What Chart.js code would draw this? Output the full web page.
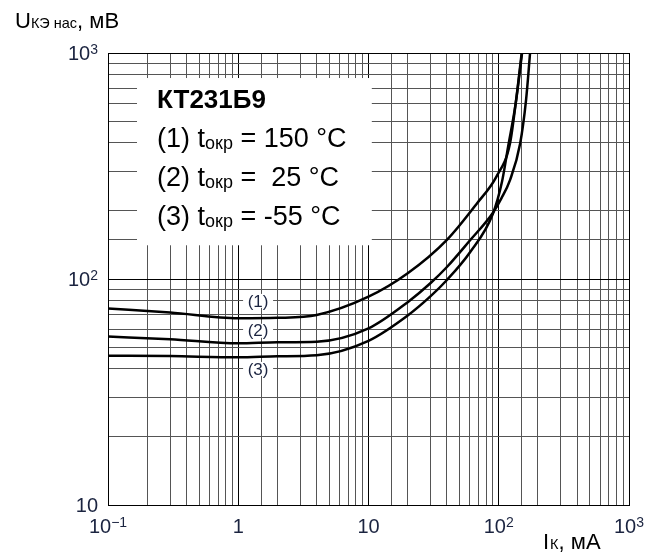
<!DOCTYPE html>
<html>
<head>
<meta charset="utf-8">
<script src="https://cdn.jsdelivr.net/npm/chart.js@4.4.1/dist/chart.umd.min.js"></script>
<style>
  html, body { margin: 0; padding: 0; background: #fff; }
</style>
</head>
<body>
<canvas id="chart" width="665" height="555"></canvas>
<script>
// Ik, mA / Uкэ нас, mV
const current1 = [0.1, 0.3, 1, 2, 4, 10, 20, 40, 68, 96, 122, 135, 150];
const voltage1 = [74, 71, 67, 67.3, 69.3, 83.5, 106, 149, 216, 284, 398, 600, 1000];

const current2 = [0.1, 0.3, 1, 2, 4, 10, 20, 30, 40, 60, 90, 105, 122, 146, 162, 174];
const voltage2 = [55.6, 54.1, 51.9, 52.5, 52.8, 60.5, 79, 96, 113, 148, 196, 228, 274, 398, 619, 1000];

const current3 = [0.1, 0.3, 1, 2, 4, 10, 20, 30, 40, 60, 90, 106, 118, 135, 151];
const voltage3 = [45.8, 45.6, 45, 45.5, 46, 53.3, 69, 84, 99, 131, 194, 270, 385, 600, 1000];

const curveNames = ['(1)', '(2)', '(3)'];
const curveLabelX = [1.42, 1.42, 1.42];
const curveLabelY = [80, 59, 40];

// decade tick labels: base + exponent
const xTickValues = [0.1, 1, 10, 100, 1000];
const xTickBase = ['10', '1', '10', '10', '10'];
const xTickSup = ['−1', '', '', '2', '3'];
const yTickValues = [10, 100, 1000];
const yTickBase = ['10', '10', '10'];
const yTickSup = ['', '2', '3'];

const FONT = "'Liberation Sans', Arial, sans-serif";
const TICK_COLOR = '#1b2440';

function pts(xs, ys) {
    return xs.map((x, i) => ({ x: x, y: ys[i] }));
}

function isDecade(value) {
    const e = Math.log10(value);
    return Math.abs(e - Math.round(e)) < 1e-6;
}

function drawPow(ctx, base, sup, ax, baseline, align) {
    ctx.font = '20px ' + FONT;
    const wB = ctx.measureText(base).width;
    ctx.font = '14px ' + FONT;
    const wS = sup ? ctx.measureText(sup).width : 0;
    const total = wB + wS;
    const x0 = align === 'center' ? ax - total / 2 : ax - total;
    ctx.font = '20px ' + FONT;
    ctx.fillText(base, x0, baseline);
    if (sup) {
        ctx.font = '14px ' + FONT;
        ctx.fillText(sup, x0 + wB, baseline - 6);
    }
}

const lineStyle = {
    borderColor: '#000',
    borderWidth: 2.5,
    pointRadius: 0,
    fill: false,
    cubicInterpolationMode: 'monotone',
};

// white legend panel, in data units
const panelX = [0.167, 10.6];
const panelY = [141, 775];

const overlay = {
    id: 'overlay',
    beforeDatasetsDraw(chart) {
        const { ctx, scales: { x, y } } = chart;
        ctx.save();
        ctx.fillStyle = '#fff';
        const l = x.getPixelForValue(panelX[0]), r = x.getPixelForValue(panelX[1]);
        const t = y.getPixelForValue(panelY[1]), b = y.getPixelForValue(panelY[0]);
        ctx.fillRect(l, t, r - l, b - t);
        curveNames.forEach((n, i) => {
            const cx = x.getPixelForValue(curveLabelX[i]);
            const cy = y.getPixelForValue(curveLabelY[i]);
            ctx.fillRect(cx - 15, cy - 7, 30, 14);
        });
        ctx.restore();
    },
    afterDraw(chart) {
        const { ctx, scales: { x, y } } = chart;
        ctx.save();
        ctx.fillStyle = TICK_COLOR;
        ctx.font = '17px ' + FONT;
        ctx.textAlign = 'center';
        ctx.textBaseline = 'middle';
        curveNames.forEach((n, i) => {
            ctx.fillText(n, x.getPixelForValue(curveLabelX[i]), y.getPixelForValue(curveLabelY[i]) + 1);
        });

        // tick labels
        ctx.textAlign = 'left';
        ctx.textBaseline = 'alphabetic';
        xTickValues.forEach((v, i) => {
            drawPow(ctx, xTickBase[i], xTickSup[i], x.getPixelForValue(v), 533, 'center');
        });
        yTickValues.forEach((v, i) => {
            drawPow(ctx, yTickBase[i], yTickSup[i], 98, y.getPixelForValue(v) + 7, 'right');
        });

        // panel text
        const l = x.getPixelForValue(panelX[0]);
        const t = y.getPixelForValue(panelY[1]);
        ctx.fillStyle = '#000';
        ctx.font = 'bold 26px ' + FONT;
        ctx.fillText('КТ231Б9', l + 20, t + 30);

        const rows = [['(1) t', ' = 150 °C'], ['(2) t', ' =  25 °C'], ['(3) t', ' = -55 °C']];
        rows.forEach((row, i) => {
            const base = t + 69 + i * 39;
            let px = l + 20;
            ctx.font = '27px ' + FONT;
            ctx.fillText(row[0], px, base);
            px += ctx.measureText(row[0]).width;
            ctx.font = '18px ' + FONT;
            ctx.fillText('окр', px, base + 2);
            px += ctx.measureText('окр').width;
            ctx.font = '27px ' + FONT;
            ctx.fillText(row[1], px, base);
        });

        // axis titles
        let px = 15;
        ctx.font = '22px ' + FONT;
        ctx.fillText('U', px, 28);
        px += ctx.measureText('U').width;
        ctx.font = '14.5px ' + FONT;
        ctx.fillText('КЭ нас', px, 28);
        px += ctx.measureText('КЭ нас').width;
        ctx.font = '22px ' + FONT;
        ctx.fillText(', мВ', px, 28);

        px = 543;
        ctx.fillText('I', px, 549);
        px += ctx.measureText('I').width + 1;
        ctx.font = '14.5px ' + FONT;
        ctx.fillText('К', px, 549);
        px += ctx.measureText('К').width;
        ctx.font = '22px ' + FONT;
        ctx.fillText(', мА', px, 549);
        ctx.restore();
    }
};

new Chart(document.getElementById('chart'), {
    type: 'line',
    data: {
        datasets: [
            { label: '(1) 150 °C', data: pts(current1, voltage1), ...lineStyle },
            { label: '(2) 25 °C', data: pts(current2, voltage2), ...lineStyle },
            { label: '(3) -55 °C', data: pts(current3, voltage3), ...lineStyle },
        ],
    },
    options: {
        responsive: false,
        animation: false,
        events: [],
        layout: { padding: { left: 0, top: 53, right: 36, bottom: 0 } },
        scales: {
            x: {
                type: 'logarithmic',
                min: 0.1,
                max: 1000,
                afterFit(s) { s.height = 50; },
                grid: {
                    drawTicks: false,
                    color: c => isDecade(c.tick.value) ? '#000' : '#555',
                    lineWidth: 1,
                },
                border: { display: true, color: '#000', width: 1 },
                ticks: { display: false, autoSkip: false, maxRotation: 0 },
            },
            y: {
                type: 'logarithmic',
                min: 10,
                max: 1000,
                afterFit(s) { s.width = 108; },
                grid: {
                    drawTicks: false,
                    color: c => isDecade(c.tick.value) ? '#000' : '#555',
                    lineWidth: 1,
                },
                border: { display: true, color: '#000', width: 1 },
                ticks: { display: false, autoSkip: false },
            },
        },
        plugins: {
            legend: { display: false },
            tooltip: { enabled: false },
        },
    },
    plugins: [overlay],
});
</script>
</body>
</html>
